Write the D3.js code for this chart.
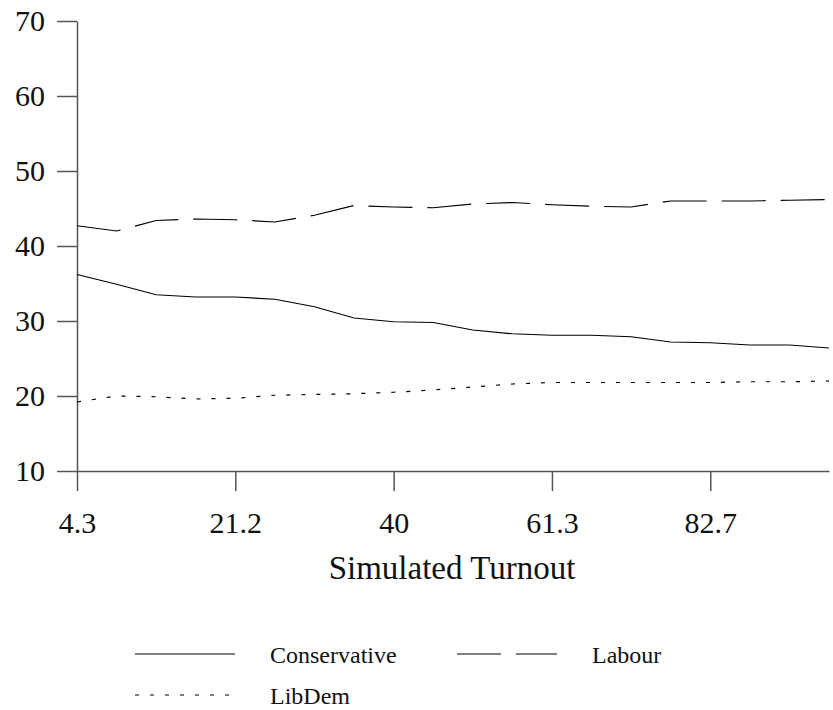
<!DOCTYPE html>
<html>
<head>
<meta charset="utf-8">
<script src="https://cdn.jsdelivr.net/npm/d3@7"></script>
<style>
  body { margin: 0; background: #fff; }
  svg { display: block; }
  text { font-family: "Liberation Serif", "DejaVu Serif", serif; fill: #111; }
  .axis path, .axis line { stroke: #555; stroke-width: 1.5; }
</style>
</head>
<body>
<svg id="chart" width="833" height="710"></svg>
<script>
// simulated turnout steps (only every 4th is labelled on the axis)
const steps = d3.range(20);
const tickLabels = { 0: '4.3', 4: '21.2', 8: '40', 12: '61.3', 16: '82.7' };

const conservative = [36.2, 34.9, 33.5, 33.2, 33.2, 32.9, 31.9, 30.4, 29.9, 29.8,
                      28.8, 28.3, 28.1, 28.1, 27.9, 27.2, 27.1, 26.8, 26.8, 26.4];
const labour = [42.7, 42.0, 43.4, 43.6, 43.5, 43.2, 44.1, 45.4, 45.2, 45.1,
                45.6, 45.8, 45.5, 45.3, 45.2, 46.0, 46.0, 46.0, 46.1, 46.2];
const libdem = [19.2, 20.0, 19.9, 19.6, 19.7, 20.1, 20.2, 20.3, 20.5, 20.8,
                21.2, 21.6, 21.8, 21.8, 21.8, 21.8, 21.8, 21.9, 21.9, 22.0];

const yTicks = [10, 20, 30, 40, 50, 60, 70];

const series = [
  { name: 'Conservative', values: conservative, dash: null },
  { name: 'Labour', values: labour, dash: '44,15' },
  { name: 'LibDem', values: libdem, dash: '4,11' },
];

const svg = d3.select('#chart');

const x = d3.scalePoint().domain(steps).range([77, 829]);
const y = d3.scaleLinear().domain([10, 70]).range([471, 21]);

// axes
svg.append('g')
  .attr('class', 'axis')
  .attr('transform', 'translate(0,471)')
  .call(d3.axisBottom(x)
    .tickValues([0, 4, 8, 12, 16])
    .tickFormat(d => tickLabels[d])
    .tickSize(20)
    .tickSizeOuter(0)
    .tickPadding(21));

svg.append('g')
  .attr('class', 'axis')
  .attr('transform', 'translate(77,0)')
  .call(d3.axisLeft(y)
    .tickValues(yTicks)
    .tickSize(20)
    .tickSizeOuter(0)
    .tickPadding(12));

svg.selectAll('.axis')
  .attr('font-family', 'Liberation Serif')
  .attr('font-size', 30);
svg.selectAll('.axis text').attr('fill', '#111');

// x title
svg.append('text')
  .attr('x', 452)
  .attr('y', 579)
  .attr('text-anchor', 'middle')
  .attr('font-size', 33)
  .text('Simulated Turnout');

// lines
const line = d3.line()
  .x((d, i) => x(steps[i]))
  .y(d => y(d));

svg.selectAll('.series')
  .data(series)
  .enter()
  .append('path')
  .attr('class', 'series')
  .attr('d', d => line(d.values))
  .attr('fill', 'none')
  .attr('stroke', '#000')
  .attr('stroke-width', 1.2)
  .attr('stroke-dasharray', d => d.dash);

// legend
const legendPos = [
  { x: 135, y: 654 },
  { x: 457, y: 654 },
  { x: 135, y: 695 },
];
const legend = svg.selectAll('.legend')
  .data(series)
  .enter()
  .append('g')
  .attr('class', 'legend')
  .attr('transform', (d, i) => 'translate(' + legendPos[i].x + ',' + legendPos[i].y + ')');

legend.append('line')
  .attr('x1', 0).attr('x2', 100)
  .attr('y1', 0).attr('y2', 0)
  .attr('stroke', '#000')
  .attr('stroke-width', 1.2)
  .attr('stroke-dasharray', d => d.dash);

legend.append('text')
  .attr('x', 135)
  .attr('y', 9)
  .attr('font-size', 24)
  .attr('fill', '#444')
  .text(d => d.name);
</script>
</body>
</html>
